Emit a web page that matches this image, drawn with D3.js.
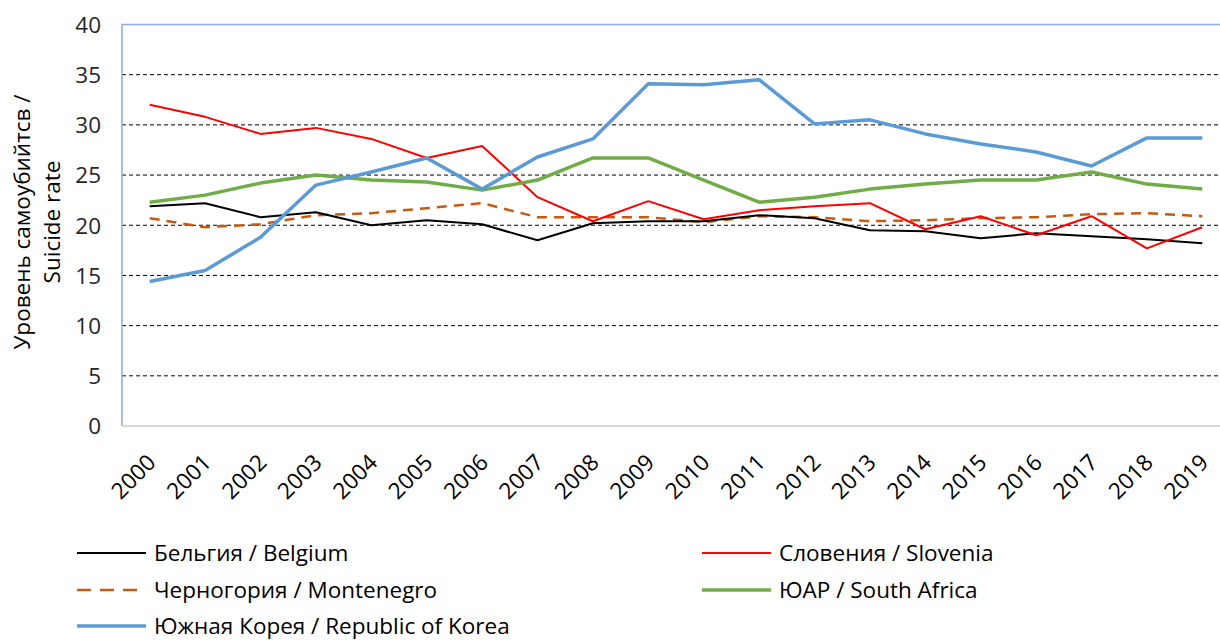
<!DOCTYPE html>
<html><head><meta charset="utf-8">
<script src="https://cdn.jsdelivr.net/npm/d3@7"></script>
<style>body{margin:0;background:#fff}svg{display:block;font-family:"Open Sans",sans-serif}</style>
</head><body><svg id="c" width="1220" height="642"></svg>
<script>
const years = [2000,2001,2002,2003,2004,2005,2006,2007,2008,2009,2010,2011,2012,2013,2014,2015,2016,2017,2018,2019];
const belgium =    [21.9,22.2,20.8,21.3,20.0,20.5,20.1,18.5,20.2,20.4,20.4,21.0,20.7,19.5,19.4,18.7,19.2,18.9,18.6,18.2];
const slovenia =   [32.0,30.8,29.1,29.7,28.6,26.7,27.9,22.8,20.4,22.4,20.6,21.5,21.9,22.2,19.6,20.9,19.0,20.9,17.7,19.8];
const montenegro = [20.7,19.8,20.1,21.0,21.2,21.7,22.2,20.8,20.8,20.8,20.3,20.9,20.8,20.4,20.5,20.7,20.8,21.1,21.2,20.9];
const southAfrica= [22.3,23.0,24.2,25.0,24.5,24.3,23.5,24.5,26.7,26.7,24.5,22.3,22.8,23.6,24.1,24.5,24.5,25.3,24.1,23.6];
const korea =      [14.4,15.5,18.8,24.0,25.3,26.7,23.6,26.8,28.6,34.1,34.0,34.5,30.1,30.5,29.1,28.1,27.3,25.9,28.7,28.7];
const yTicks = [0,5,10,15,20,25,30,35,40];
const seriesNames = ["Бельгия / Belgium","Словения / Slovenia","Черногория / Montenegro","ЮАР / South Africa","Южная Корея / Republic of Korea"];

const series = [
  {name: seriesNames[0], values: belgium, color:"#000000", width:2, dash:null},
  {name: seriesNames[1], values: slovenia, color:"#FF0000", width:2, dash:null},
  {name: seriesNames[2], values: montenegro, color:"#C55A11", width:2.5, dash:"10,7"},
  {name: seriesNames[3], values: southAfrica, color:"#70AD47", width:3.5, dash:null},
  {name: seriesNames[4], values: korea, color:"#5B9BD5", width:3.5, dash:null}
];

const FONT = "'Open Sans', sans-serif";
const FS = 22.5;
const svg = d3.select("#c");
const pLeft = 122, pTop = 24.5, pBottom = 426;
const step = 55.4;
const x = d3.scalePoint().domain(years).range([pLeft + step/2, pLeft + step/2 + step*19]);
const y = d3.scaleLinear().domain([0,40]).range([pBottom, pTop]);

// gridlines
svg.append("g").selectAll("line").data(yTicks.filter(d=>d>0 && d<40)).join("line")
  .attr("x1", pLeft).attr("x2", 1220).attr("y1", d=>y(d)).attr("y2", d=>y(d))
  .attr("stroke","#000").attr("stroke-width",1).attr("stroke-dasharray","4,3");

// plot border (left/top blue)
svg.append("line").attr("x1",pLeft).attr("x2",1220).attr("y1",pTop).attr("y2",pTop).attr("stroke","#8EA9DB").attr("stroke-width",1.5);
svg.append("line").attr("x1",pLeft).attr("x2",pLeft).attr("y1",pTop).attr("y2",pBottom).attr("stroke","#8EA9DB").attr("stroke-width",1.5);
// x axis line
svg.append("line").attr("x1",pLeft).attr("x2",1220).attr("y1",pBottom).attr("y2",pBottom).attr("stroke","#D9D9D9").attr("stroke-width",2);

// y tick labels
const yAxis = d3.axisLeft(y).tickValues(yTicks).tickSize(0).tickPadding(0);
const gy = svg.append("g").attr("transform",`translate(${101},0)`).call(yAxis);
gy.select(".domain").remove();
gy.selectAll("text").attr("font-size",FS).attr("fill","#262626").attr("font-family",FONT).attr("dy","0.35em");

// x tick labels
const xAxis = d3.axisBottom(x).tickSize(0).tickFormat(d=>String(d));
const gx = svg.append("g").attr("transform",`translate(0,${pBottom})`).call(xAxis);
gx.select(".domain").remove();
gx.selectAll("text").attr("font-size",FS).attr("fill","#000").attr("font-family",FONT)
  .attr("text-anchor","end").attr("dy",0).attr("y",0)
  .attr("transform","translate(7,38) rotate(-45)");

// y title
const yt = svg.append("text").attr("transform","translate(0,222) rotate(-90)").attr("text-anchor","middle")
  .attr("font-size",FS).attr("fill","#000").attr("font-family",FONT);
yt.append("tspan").attr("x",0).attr("y",30).text("Уровень самоубийтсв /");
yt.append("tspan").attr("x",0).attr("y",60).text("Suicide rate");

// lines
const line = d3.line().x((d,i)=>x(years[i])).y(d=>y(d));
svg.append("g").selectAll("path").data([series[2],series[0],series[1],series[3],series[4]]).join("path")
  .attr("d", d=>line(d.values)).attr("fill","none").attr("stroke",d=>d.color)
  .attr("stroke-width",d=>d.width).attr("stroke-dasharray",d=>d.dash).attr("stroke-linejoin","round");

// legend
const legendPos = [[77,553],[702,553],[77,590],[702,590],[77,626]];
const lg = svg.append("g").selectAll("g").data(series).join("g")
  .attr("transform",(d,i)=>`translate(${legendPos[i][0]},${legendPos[i][1]})`);
lg.append("line").attr("x1",0).attr("x2",69).attr("y1",0).attr("y2",0)
  .attr("stroke",d=>d.color).attr("stroke-width",d=>d.width).attr("stroke-dasharray",d=>d.dash?"14,9":null);
lg.append("text").attr("x",77).attr("y",0).attr("dy","0.35em").attr("font-size",FS).attr("fill","#000").attr("font-family",FONT).text(d=>d.name);
</script></body></html>
